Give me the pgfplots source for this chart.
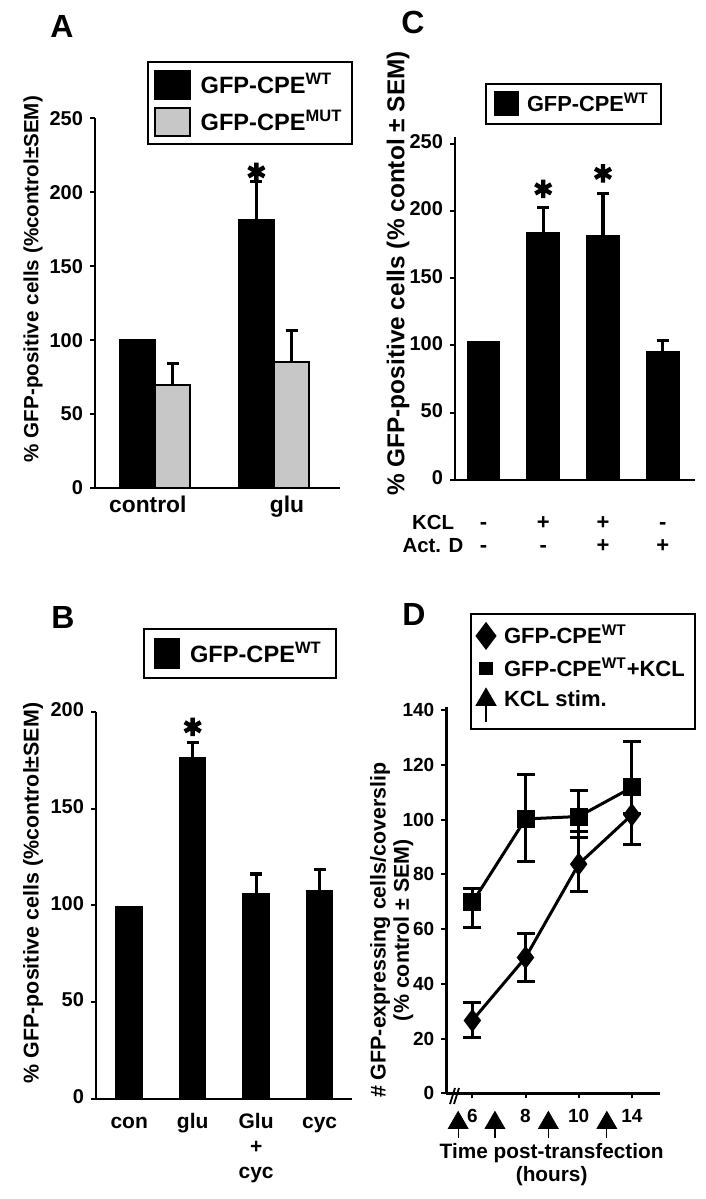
\documentclass[border=0pt]{standalone}
\usepackage{fontspec}
\setmainfont{Liberation Sans}
\usepackage{pgfplots}
\pgfplotsset{compat=1.18}

\newcommand{\bfs}[2]{\fontsize{#1}{#2}\selectfont\bfseries}

\pgfplotsset{
  panel/.style={
    scale only axis, clip=false,
    axis x line*=bottom, axis y line*=left,
    axis line style={-, line width=1.4pt, black},
    tick align=outside, major tick length=2.5pt,
    tick style={line width=1pt, black},
    /pgf/number format/assume math mode=true,
    yticklabel style={font=\bfs{10}{12}},
    ylabel style={anchor=center},
    legend cell align=left,
    legend style={draw=black, line width=1pt, fill=white, inner xsep=2pt, inner ysep=2pt},
  },
  bareb/.style={error bars/.cd, y dir=plus, y explicit,
    error bar style={line width=1.6pt, black},
    error mark options={rotate=90, mark size=3pt, line width=1.6pt, black}},
  starp/.style={only marks, mark=asterisk, mark size=4.6pt, line width=2.2pt, black, forget plot},
  lineeb/.style={error bars/.cd, y dir=both, y explicit,
    error bar style={line width=1.5pt, black},
    error mark options={rotate=90, mark size=4.5pt, line width=1.5pt, black}},
  legM/.style={legend image code/.code={\draw[##1, only marks, mark size=#1] plot coordinates {(6pt,0pt)};}},
  legT/.style={legend image code/.code={\draw[line width=0.6pt] (6pt,0pt) -- (6pt,-11pt); \draw[##1, only marks, mark size=5.2pt] plot coordinates {(6pt,0pt)};}},
}

\begin{document}
\begin{tikzpicture}
\useasboundingbox (0pt,0pt) rectangle (353pt,-599.5pt);

% ---------------- Panel A ----------------
\begin{axis}[panel,
  at={(47.5pt,-244pt)}, anchor=south west,
  width=122.5pt, height=184.85pt,
  xmin=-0.504, xmax=1.555, ymin=0, ymax=250,
  ytick={0,50,...,250},
  xtick={-0.06,1.11}, xticklabels={control,glu},
  xtick style={draw=none},
  xticklabel style={font=\bfs{11.4}{13}, yshift=2pt},
  ylabel={\% GFP-positive cells (\%control±SEM)},
  ylabel style={at={(rel axis cs:-0.253,0.565)}, font=\bfs{10.3}{12}},
  legend style={at={(0.211,1.155)}, anchor=north west, font=\bfs{11.8}{14}, row sep=3pt, inner xsep=3pt, inner ysep=3.5pt,
    /tikz/every odd column/.append style={column sep=3pt}},
  legend image code/.code={\draw[#1, line width=1pt] (0pt,-7pt) rectangle (17.5pt,7pt);},
]
\addplot[ybar, bar width=0.295, bar shift=0, fill=black, draw=black, line width=0.8pt]
  coordinates {(-0.1475,100)};
\addlegendentry{GFP-CPE\textsuperscript{WT}}
\addplot[ybar, bar width=0.295, bar shift=0, fill=black!22, draw=black, line width=1pt, bareb]
  coordinates {(0.1475,69.8) +- (0,14.2) (1.1475,85.1) +- (0,21.2)};
\addlegendentry{GFP-CPE\textsuperscript{MUT}}
\addplot[ybar, bar width=0.295, bar shift=0, fill=black, draw=black, line width=0.8pt, forget plot, bareb]
  coordinates {(0.8525,181.3) +- (0,25.9)};
\addplot[starp] coordinates {(0.8525,213.8)};
\end{axis}

% ---------------- Panel C ----------------
\begin{axis}[panel,
  at={(227.5pt,-240pt)}, anchor=south west,
  width=120pt, height=171.5pt,
  xmin=-0.477, xmax=3.54, ymin=0, ymax=255,
  ytick={0,50,...,250},
  xtick={0,1,2,3}, xticklabels={{-\\-},{+\\-},{+\\+},{-\\+}},
  xtick style={draw=none},
  xticklabel style={align=center, font=\bfs{11}{11.5}, yshift=-10.5pt},
  typeset ticklabels with strut,
  ylabel={\% GFP-positive cells (\% contol ± SEM)},
  ylabel style={at={(rel axis cs:-0.2375,0.602)}, font=\bfs{12.2}{14}},
  legend style={at={(0.125,1.157)}, anchor=north west, font=\bfs{10.9}{13}, inner xsep=4pt, inner ysep=2.5pt,
    /tikz/every odd column/.append style={column sep=2pt}},
  legend image code/.code={\draw[#1, line width=1pt] (0pt,-5.75pt) rectangle (11.5pt,5.75pt);},
]
\addplot[ybar, bar width=0.54, bar shift=0, fill=black, draw=black, line width=0.8pt]
  coordinates {(0,102.6)};
\addlegendentry{GFP-CPE\textsuperscript{WT}}
\addplot[ybar, bar width=0.54, bar shift=0, fill=black, draw=black, line width=0.8pt, forget plot, bareb]
  coordinates {(1,184.1) +- (0,18.6) (2,181.6) +- (0,31.5) (3,95.4) +- (0,8.2)};
\addplot[starp] coordinates {(1,216.4) (2,228)};
\end{axis}

% ---------------- Panel B ----------------
\begin{axis}[panel,
  at={(48pt,-549.5pt)}, anchor=south west,
  width=128pt, height=193.65pt,
  xmin=-0.523, xmax=3.51, ymin=0, ymax=200,
  ytick={0,50,...,200},
  xtick={0,1,2,3}, xticklabels={con,glu,{Glu\\+\\cyc},cyc},
  xtick style={draw=none},
  xticklabel style={align=center, font=\bfs{10.5}{12.5}},
  typeset ticklabels with strut,
  ylabel={\% GFP-positive cells (\%control±SEM)},
  ylabel style={at={(rel axis cs:-0.246,0.532)}, font=\bfs{10.7}{12}},
  legend style={at={(0.184,1.216)}, anchor=north west, font=\bfs{11.8}{14}, inner xsep=5pt, inner ysep=4.5pt,
    /tikz/every odd column/.append style={column sep=3pt}},
  legend image code/.code={\draw[#1, line width=1pt] (0pt,-7.25pt) rectangle (12pt,7.25pt);},
]
\addplot[ybar, bar width=0.41, bar shift=0, fill=black, draw=black, line width=0.8pt]
  coordinates {(0,99.5)};
\addlegendentry{GFP-CPE\textsuperscript{WT}}
\addplot[ybar, bar width=0.41, bar shift=0, fill=black, draw=black, line width=0.8pt, forget plot, bareb]
  coordinates {(1,176.4) +- (0,7.5) (2,106.1) +- (0,10.1) (3,107.7) +- (0,10.9)};
\addplot[starp] coordinates {(1,192.2)};
\end{axis}

% ---------------- Panel D ----------------
\begin{axis}[panel,
  at={(223.15pt,-546.65pt)}, anchor=south west,
  width=106.85pt, height=193.3pt,
  xmin=0.51, xmax=4.53, ymin=0, ymax=141.2,
  ytick={0,20,...,140},
  xtick={1,2,3,4}, xticklabels={6,8,10,14},
  xticklabel style={font=\bfs{9.5}{11}, yshift=-2pt},
  yticklabel style={font=\bfs{9.5}{11}},
  xlabel={Time post-transfection\\(hours)},
  xlabel style={at={(rel axis cs:0.493,-0.185)}, anchor=center, align=center, font=\bfs{10.4}{11.7}},
  ylabel={\# GFP-expressing cells/coverslip\\(\% control ± SEM)},
  ylabel style={at={(rel axis cs:-0.255,0.422)}, align=center, font=\bfs{10.7}{11.65}},
  legend style={at={(0.111,1.242)}, anchor=north west, font=\bfs{11}{13}, inner xsep=3pt, inner ysep=3.5pt, row sep=1.5pt,
    /tikz/every odd column/.append style={column sep=2.5pt}},
]
\addplot[black, line width=1.5pt, mark=diamond*, mark size=4.6pt, mark options={solid},
  legM=5.8pt, lineeb]
  coordinates {(1,26.6) += (0,6.5) -= (0,6.1) (2,49.6) += (0,8.9) -= (0,8.8)
               (3,83.7) += (0,11.9) -= (0,10) (4,101.7) += (0,9.5) -= (0,11)};
\addlegendentry{GFP-CPE\textsuperscript{WT}}
\addplot[black, line width=1.5pt, mark=square*, mark size=3.75pt, mark options={solid},
  legM=2.7pt, lineeb]
  coordinates {(1,69.7) += (0,5.2) -= (0,9) (2,100.2) += (0,16.1) -= (0,15.5)
               (3,101.1) += (0,9.4) -= (0,7.6) (4,111.7) += (0,16.8) -= (0,9.5)};
\addlegendentry{GFP-CPE\textsuperscript{WT}+KCL}
\addplot[black, only marks, mark=triangle*, mark size=5.7pt, legT,
  error bars/.cd, y dir=minus, y fixed=5.5, error mark=none, error bar style={line width=0.6pt, black}]
  coordinates {(0.733,-10.8) (1.425,-10.8) (2.43,-10.8) (3.53,-10.8)};
\addlegendentry{KCL stim.}
\end{axis}

% axis break mark in D
\draw[line width=0.9pt] (225pt,-552pt) -- (227.5pt,-544pt);
\draw[line width=0.9pt] (227pt,-552pt) -- (229.5pt,-544pt);

% row labels of C
\node[align=center, font=\bfs{10.2}{11.5}] at (216.5pt,-267pt) {KCL\\Act. D};

% panel letters
\node[font=\bfs{16}{18}] at (31pt,-13pt) {A};
\node[font=\bfs{16}{18}] at (206.5pt,-11pt) {C};
\node[font=\bfs{16}{18}] at (31.5pt,-308.5pt) {B};
\node[font=\bfs{16}{18}] at (207pt,-307pt) {D};
\end{tikzpicture}
\end{document}
